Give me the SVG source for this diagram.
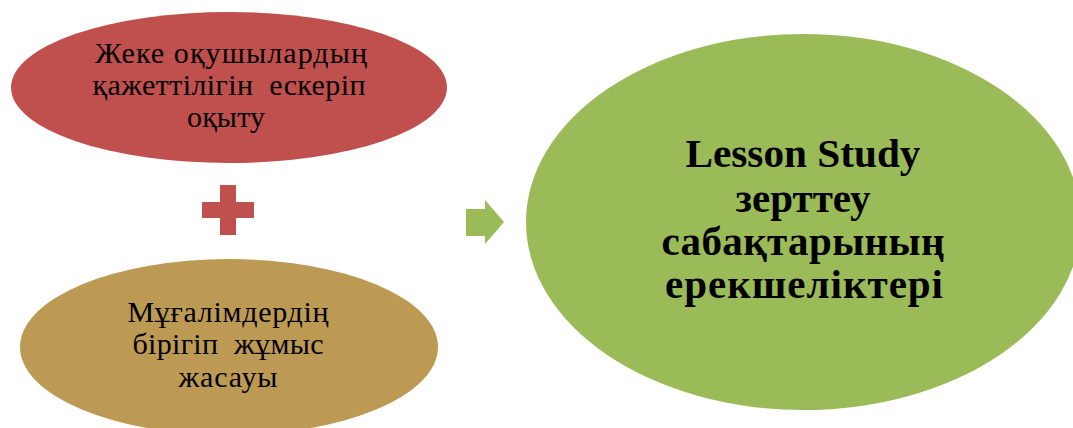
<svg xmlns="http://www.w3.org/2000/svg" width="1073" height="428" viewBox="0 0 1073 428">
  <style>
    .lbl { font-family: "Liberation Serif", "Times New Roman", serif; font-size: 30px; fill: #000; text-anchor: middle; white-space: pre; }
    .big { font-family: "Liberation Serif", "Times New Roman", serif; font-size: 41px; font-weight: bold; fill: #000; text-anchor: middle; }
    .red { fill: #C0504D; }
    .tan { fill: #BD9A54; }
    .grn { fill: #9BBB59; }
  </style>
  <rect width="1073" height="428" fill="#FFFFFF"/>
  <g id="node-individual">
    <ellipse class="red" cx="229" cy="87.5" rx="218" ry="75.5"/>
    <text class="lbl" xml:space="preserve"><tspan x="231" y="63" textLength="272" lengthAdjust="spacing">Жеке оқушылардың</tspan><tspan x="229" y="95" textLength="273" lengthAdjust="spacing">қажеттілігін  ескеріп</tspan><tspan x="226" y="127" textLength="78" lengthAdjust="spacing">оқыту</tspan></text>
  </g>
  <g id="node-teachers">
    <ellipse class="tan" cx="229" cy="347" rx="209" ry="88"/>
    <text class="lbl" xml:space="preserve"><tspan x="228" y="322" textLength="201" lengthAdjust="spacing">Мұғалімдердің</tspan><tspan x="228" y="354" textLength="191" lengthAdjust="spacing">бірігіп  жұмыс</tspan><tspan x="228" y="387" textLength="99" lengthAdjust="spacing">жасауы</tspan></text>
  </g>
  <g id="node-lesson-study">
    <ellipse class="grn" cx="803.5" cy="222" rx="277.5" ry="188"/>
    <text class="big"><tspan x="803" y="167" textLength="235" lengthAdjust="spacingAndGlyphs">Lesson Study</tspan><tspan x="803" y="212" textLength="135" lengthAdjust="spacing">зерттеу</tspan><tspan x="803" y="255" textLength="283" lengthAdjust="spacing">сабақтарының</tspan><tspan x="804" y="298" textLength="278" lengthAdjust="spacing">ерекшеліктері</tspan></text>
  </g>
  <g id="connectors">
    <path class="red" d="M220 185 H236 V202 H254 V218 H236 V235 H220 V218 H202 V202 H220 Z"/>
    <path class="grn" d="M466 209 H485 V200 L504 222 L485 244 V236 H466 Z"/>
  </g>
</svg>
